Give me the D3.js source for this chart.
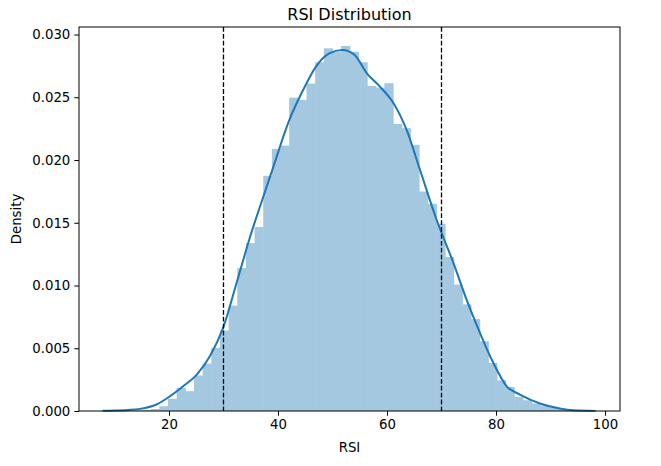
<!DOCTYPE html>
<html>
<head>
<meta charset="utf-8">
<script src="https://cdn.jsdelivr.net/npm/d3@7"></script>
<style>
  body { margin: 0; background: #fff; }
  svg { font-family: "DejaVu Sans", sans-serif; }
</style>
</head>
<body>
<script>
// histogram bin edges (RSI) and density per bin
const binEdges = [13.47, 15.06, 16.65, 18.23, 19.82, 21.41, 23.00, 24.59, 26.17, 27.76,
  29.35, 30.94, 32.53, 34.11, 35.70, 37.29, 38.88, 40.47, 42.05, 43.64,
  45.23, 46.82, 48.41, 49.99, 51.58, 53.17, 54.76, 56.35, 57.93, 59.52,
  61.11, 62.70, 64.29, 65.87, 67.46, 69.05, 70.64, 72.23, 73.81, 75.40,
  76.99, 78.58, 80.17, 81.75, 83.34, 84.93, 86.52, 88.11, 89.69, 91.28, 92.87];
const binDensity = [0.00004, 0.00008, 0.00016, 0.00038, 0.00097, 0.00185, 0.00158, 0.00283, 0.00378, 0.00503,
  0.00641, 0.00840, 0.01140, 0.01338, 0.01466, 0.01874, 0.02089, 0.02115, 0.02497, 0.02479,
  0.02609, 0.02779, 0.02890, 0.02860, 0.02909, 0.02863, 0.02779, 0.02590, 0.02577, 0.02612,
  0.02288, 0.02254, 0.02121, 0.01749, 0.01651, 0.01492, 0.01227, 0.01007, 0.00850, 0.00733,
  0.00556, 0.00383, 0.00245, 0.00192, 0.00113, 0.00086, 0.00060, 0.00044, 0.00030, 0.00018];

// KDE curve
const kdeX = [7.8, 10, 12.5, 14.7, 17.7, 20.2, 22.6, 25.1, 27.5, 30, 32.4, 34.9, 36.7, 38.95,
  42.0, 45.1, 46.9, 49.4, 51.8, 54.0, 56.3, 58.7, 61.2, 63.6, 66.05, 69.1, 72.2, 74.6,
  77.06, 79.5, 81.96, 84.4, 88.07, 91.7, 94.2, 98.3];
const kdeY = [0.00001, 0.00003, 0.00008, 0.00017, 0.00052, 0.00118, 0.00197, 0.0029, 0.00436, 0.0067,
  0.0102, 0.0139, 0.0163, 0.0192, 0.0231, 0.0260, 0.0274, 0.0285, 0.02877, 0.0284,
  0.02691, 0.02585, 0.02453, 0.0224, 0.01922, 0.01524, 0.01179, 0.00887, 0.00622, 0.00384,
  0.00197, 0.00131, 0.0006, 0.0002, 0.00006, 0.00001];

const thresholds = [30, 70];
const xTicks = [20, 40, 60, 80, 100];
const yTicks = [0, 0.005, 0.010, 0.015, 0.020, 0.025, 0.030];

const W = 661, H = 466;
const margin = {top: 27, right: 41, bottom: 55, left: 79};
const width = W - margin.left - margin.right;
const height = H - margin.top - margin.bottom;

const svg = d3.select('body').append('svg')
  .attr('width', W)
  .attr('height', H);

const g = svg.append('g')
  .attr('transform', `translate(${margin.left}, ${margin.top})`);

const xScale = d3.scaleLinear().domain([3.49, 102.75]).range([0, width]);
const yScale = d3.scaleLinear().domain([0, 0.0306]).range([height, 0]);

// bars
const bins = binDensity.map((d, i) => ({x0: binEdges[i], x1: binEdges[i + 1], y: d}));
g.selectAll('rect.bar')
  .data(bins)
  .enter()
  .append('rect')
  .attr('class', 'bar')
  .attr('x', d => xScale(d.x0))
  .attr('width', d => xScale(d.x1) - xScale(d.x0) + 0.6)
  .attr('y', d => yScale(d.y))
  .attr('height', d => height - yScale(d.y))
  .attr('fill', '#a5c8e1');

// kde line
const kde = kdeX.map((x, i) => [x, kdeY[i]]);
g.append('path')
  .datum(kde)
  .attr('fill', 'none')
  .attr('stroke', '#1f77b4')
  .attr('stroke-width', 2)
  .attr('d', d3.line()
    .x(d => xScale(d[0]))
    .y(d => yScale(d[1]))
    .curve(d3.curveMonotoneX));

// dashed threshold lines
g.selectAll('line.thr')
  .data(thresholds)
  .enter()
  .append('line')
  .attr('class', 'thr')
  .attr('x1', d => xScale(d)).attr('x2', d => xScale(d))
  .attr('y1', 0).attr('y2', height)
  .attr('stroke', '#000')
  .attr('stroke-width', 1.3)
  .attr('stroke-dasharray', '4.8,2.1');

// axes
const xAxis = d3.axisBottom(xScale).tickValues(xTicks).tickSize(4.7).tickPadding(4);
const yAxis = d3.axisLeft(yScale).tickValues(yTicks).tickFormat(d3.format('.3f')).tickSize(4.7).tickPadding(4);

const xg = g.append('g')
  .attr('transform', `translate(0, ${height})`)
  .call(xAxis);
const yg = g.append('g').call(yAxis);

[xg, yg].forEach(a => {
  a.select('.domain').remove();
  a.selectAll('text').attr('font-size', 13.3).attr('fill', '#000').attr('font-family', 'DejaVu Sans');
  a.selectAll('line').attr('stroke', '#000').attr('stroke-width', 1);
});

// frame
g.append('rect')
  .attr('width', width)
  .attr('height', height)
  .attr('fill', 'none')
  .attr('stroke', '#000')
  .attr('stroke-width', 1);

// labels
svg.append('text')
  .attr('x', margin.left + width / 2)
  .attr('y', 20)
  .attr('text-anchor', 'middle')
  .attr('font-size', 16)
  .text('RSI Distribution');

svg.append('text')
  .attr('x', margin.left + width / 2)
  .attr('y', 452)
  .attr('text-anchor', 'middle')
  .attr('font-size', 13.3)
  .text('RSI');

svg.append('text')
  .attr('transform', `translate(21, ${margin.top + height / 2}) rotate(-90)`)
  .attr('text-anchor', 'middle')
  .attr('font-size', 13.3)
  .text('Density');
</script>
</body>
</html>
